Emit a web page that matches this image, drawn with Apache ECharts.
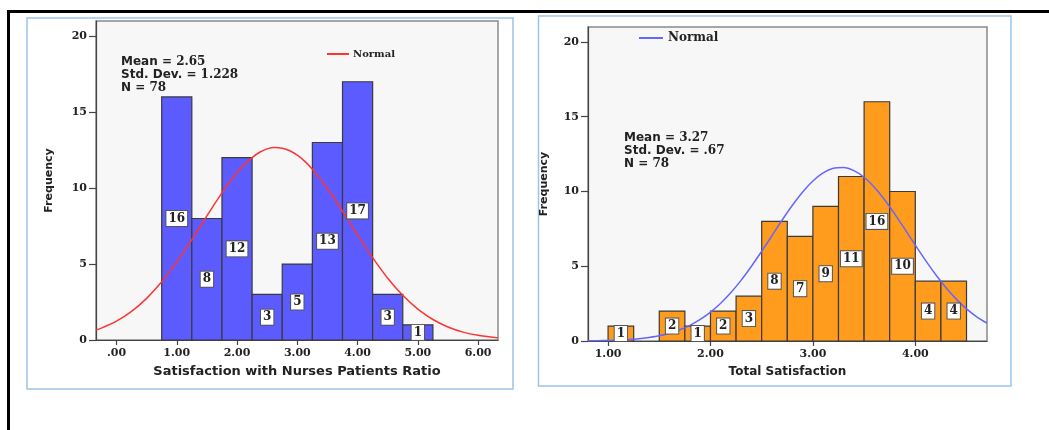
<!DOCTYPE html>
<html>
<head>
<meta charset="utf-8">
<script src="https://cdn.jsdelivr.net/npm/echarts@6/dist/echarts.min.js"></script>
<style>
html,body{margin:0;padding:0;background:#fff;}
#c{width:1049px;height:430px;}
</style>
</head>
<body>
<div id="c"></div>
<script>
// ---- Left histogram: Satisfaction with Nurses Patients Ratio ----
const leftBinEdges = [0.75, 1.25, 1.75, 2.25, 2.75, 3.25, 3.75, 4.25, 4.75, 5.25];
const leftCounts = [16, 8, 12, 3, 5, 13, 17, 3, 1];
const leftCurveX = [-0.34, -0.25, 0, 0.25, 0.5, 0.75, 1.0, 1.25, 1.5, 1.625, 1.75, 1.875, 2.0, 2.125, 2.25, 2.375, 2.5, 2.625, 2.75, 2.875, 3.0, 3.125, 3.25, 3.375, 3.5, 3.625, 3.75, 3.875, 4.0, 4.25, 4.5, 4.75, 5.0, 5.25, 5.5, 5.75, 6.0, 6.33];
const leftCurveY = [0.65, 0.78, 1.24, 1.88, 2.74, 3.83, 5.14, 6.61, 8.17, 8.94, 9.69, 10.38, 11.01, 11.56, 12.01, 12.36, 12.58, 12.67, 12.63, 12.46, 12.17, 11.76, 11.24, 10.64, 9.97, 9.25, 8.48, 7.70, 6.92, 5.42, 4.07, 2.94, 2.03, 1.35, 0.86, 0.52, 0.31, 0.14];
const leftXTicks = [0, 1, 2, 3, 4, 5, 6];
const leftStats = ['2.65', '1.228', '78'];
const leftXName = 'Satisfaction with Nurses Patients Ratio';

// ---- Right histogram: Total Satisfaction ----
const rightBinEdges = [1.0, 1.25, 1.5, 1.75, 2.0, 2.25, 2.5, 2.75, 3.0, 3.25, 3.5, 3.75, 4.0, 4.25, 4.5];
const rightCounts = [1, 0, 2, 1, 2, 3, 8, 7, 9, 11, 16, 10, 4, 4];
const rightCurveX = [0.8, 0.9, 1.0, 1.1, 1.2, 1.3, 1.4, 1.5, 1.6, 1.7, 1.8, 1.9, 2.0, 2.1, 2.2, 2.3, 2.4, 2.5, 2.6, 2.7, 2.8, 2.9, 3.0, 3.1, 3.2, 3.3, 3.4, 3.5, 3.6, 3.7, 3.8, 3.9, 4.0, 4.1, 4.2, 4.3, 4.4, 4.5, 4.6, 4.7];
const rightCurveY = [0.01, 0.02, 0.04, 0.06, 0.10, 0.15, 0.24, 0.35, 0.52, 0.75, 1.05, 1.44, 1.93, 2.53, 3.24, 4.07, 5.00, 6.00, 7.04, 8.09, 9.08, 9.97, 10.70, 11.24, 11.55, 11.60, 11.39, 10.95, 10.28, 9.45, 8.49, 7.46, 6.41, 5.39, 4.43, 3.56, 2.80, 2.15, 1.62, 1.19];
const rightXTicks = [1, 2, 3, 4];
const rightStats = ['3.27', '.67', '78'];
const rightXName = 'Total Satisfaction';

const yTicks = [0, 5, 10, 15, 20];
const yName = 'Frequency';
const legendName = 'Normal';

function binData(edges, counts) {
  return counts.map((c, i) => [edges[i], edges[i + 1], c]);
}
function curveData(xs, ys) { return xs.map((x, i) => [x, ys[i]]); }

const SANS = 'DejaVu Sans';
const SERIF = 'DejaVu Serif';

function barRender(fill) {
  return function (params, api) {
    const x0 = api.value(0), x1 = api.value(1), v = api.value(2);
    if (!v) return null;
    const p0 = api.coord([x0, 0]);
    const p1 = api.coord([x1, v]);
    return {
      type: 'rect',
      shape: { x: p0[0], y: p1[1], width: p1[0] - p0[0], height: p0[1] - p1[1] },
      style: { fill: fill, stroke: '#3a3a3a', lineWidth: 1.2 }
    };
  };
}
function labelRender(params, api) {
  const x0 = api.value(0), x1 = api.value(1), v = api.value(2);
  if (!v) return null;
  const p = api.coord([(x0 + x1) / 2, v / 2]);
  return {
    type: 'text',
    x: p[0], y: p[1],
    style: {
      text: String(v),
      fontFamily: SERIF, fontWeight: 'bold', fontSize: 12,
      fill: '#222', align: 'center', verticalAlign: 'middle',
      backgroundColor: '#ffffff', borderColor: '#555', borderWidth: 1,
      padding: [2, 2, 1, 2]
    }
  };
}

function fmtTick(v) { return v === 0 ? '.00' : v.toFixed(2); }

const axisLineStyle = { color: '#444', width: 1.2 };

function xAxisCfg(gi, min, max, ticks, name, nameSize) {
  return {
    type: 'value', gridIndex: gi, min: min, max: max,
    name: name, nameLocation: 'middle', nameGap: 25,
    nameTextStyle: { fontFamily: SANS, fontWeight: 'bold', fontSize: nameSize, color: '#222' },
    axisLine: { show: true, onZero: false, lineStyle: axisLineStyle },
    axisTick: { show: true, length: 5, lineStyle: axisLineStyle, customValues: ticks },
    axisLabel: { customValues: ticks, formatter: fmtTick, margin: 8,
      fontFamily: SERIF, fontWeight: 'bold', fontSize: 11, color: '#222' },
    splitLine: { show: false }
  };
}
function yAxisCfg(gi, gap) {
  return {
    type: 'value', gridIndex: gi, min: 0, max: 21,
    name: yName, nameLocation: 'middle', nameGap: gap, nameRotate: 90,
    nameTextStyle: { fontFamily: SANS, fontWeight: 'bold', fontSize: 11, color: '#222' },
    axisLine: { show: true, onZero: false, lineStyle: axisLineStyle },
    axisTick: { show: true, length: 7, lineStyle: axisLineStyle, customValues: yTicks },
    axisLabel: { customValues: yTicks, margin: 9,
      fontFamily: SERIF, fontWeight: 'bold', fontSize: 11, color: '#222' },
    splitLine: { show: false }
  };
}

function statsText(vals) {
  return '{a|Mean = }{b|' + vals[0] + '}\n{a|Std. Dev. = }{b|' + vals[1] + '}\n{a|N = }{b|' + vals[2] + '}';
}
const statsRich = {
  a: { fontFamily: SANS, fontWeight: 'bold', fontSize: 12, fill: '#222', lineHeight: 13 },
  b: { fontFamily: SERIF, fontWeight: 'bold', fontSize: 12, fill: '#222', lineHeight: 13 }
};

const chart = echarts.init(document.getElementById('c'), null, { renderer: 'canvas' });
chart.setOption({
  backgroundColor: '#ffffff',
  animation: false,
  grid: [
    { left: 96, top: 21, width: 402, height: 319, show: true, backgroundColor: '#f7f7f7', borderColor: '#8a8a8a', borderWidth: 1.5, containLabel: false },
    { left: 588, top: 27, width: 399, height: 314, show: true, backgroundColor: '#f7f7f7', borderColor: '#8a8a8a', borderWidth: 1.5, containLabel: false }
  ],
  xAxis: [
    xAxisCfg(0, -0.34, 6.33, leftXTicks, leftXName, 13),
    xAxisCfg(1, 0.804, 4.70, rightXTicks, rightXName, 12)
  ],
  yAxis: [yAxisCfg(0, 41), yAxisCfg(1, 38)],
  legend: [
    { data: ['NormalL'], left: 327, top: 49, padding: 0, icon: 'rect', itemWidth: 22, itemHeight: 2, itemGap: 4,
      formatter: () => legendName, selectedMode: false,
      textStyle: { fontFamily: SERIF, fontWeight: 'bold', fontSize: 10, color: '#222', padding: [0, 0, 0, -1] } },
    { data: ['NormalR'], left: 639, top: 32, padding: 0, icon: 'rect', itemWidth: 24, itemHeight: 2,
      formatter: () => legendName, selectedMode: false,
      textStyle: { fontFamily: SERIF, fontWeight: 'bold', fontSize: 12, color: '#222' } }
  ],
  series: [
    { type: 'custom', xAxisIndex: 0, yAxisIndex: 0, z: 2, renderItem: barRender('#5b5bff'),
      data: binData(leftBinEdges, leftCounts), encode: { x: [0, 1], y: 2 } },
    { name: 'NormalL', type: 'line', xAxisIndex: 0, yAxisIndex: 0, z: 3, smooth: 0.2, showSymbol: false,
      itemStyle: { color: '#ff3333' }, lineStyle: { color: '#ff3333', width: 1.5 },
      data: curveData(leftCurveX, leftCurveY) },
    { type: 'custom', xAxisIndex: 0, yAxisIndex: 0, z: 4, renderItem: labelRender,
      data: binData(leftBinEdges, leftCounts), encode: { x: [0, 1], y: 2 } },

    { type: 'custom', xAxisIndex: 1, yAxisIndex: 1, z: 2, renderItem: barRender('#ff9c1e'),
      data: binData(rightBinEdges, rightCounts), encode: { x: [0, 1], y: 2 } },
    { name: 'NormalR', type: 'line', xAxisIndex: 1, yAxisIndex: 1, z: 3, smooth: 0.2, showSymbol: false,
      itemStyle: { color: '#6666ff' }, lineStyle: { color: '#6666ff', width: 1.5 },
      data: curveData(rightCurveX, rightCurveY) },
    { type: 'custom', xAxisIndex: 1, yAxisIndex: 1, z: 4, renderItem: labelRender,
      data: binData(rightBinEdges, rightCounts), encode: { x: [0, 1], y: 2 } }
  ],
  graphic: [
    { type: 'line', shape: { x1: 7, y1: 11.5, x2: 1049, y2: 11.5 }, style: { stroke: '#000', lineWidth: 3 }, z: 10 },
    { type: 'line', shape: { x1: 8.5, y1: 10, x2: 8.5, y2: 430 }, style: { stroke: '#000', lineWidth: 3 }, z: 10 },
    { type: 'rect', shape: { x: 27, y: 18, width: 486, height: 371 }, style: { fill: 'none', stroke: '#9cc3e6', lineWidth: 1.5 }, z: 0 },
    { type: 'rect', shape: { x: 538.5, y: 16, width: 472.5, height: 370 }, style: { fill: 'none', stroke: '#9cc3e6', lineWidth: 1.5 }, z: 0 },
    { type: 'text', left: 121, top: 56, z: 10, style: { text: statsText(leftStats), rich: statsRich } },
    { type: 'text', left: 624, top: 132, z: 10, style: { text: statsText(rightStats), rich: statsRich } }
  ]
});
</script>
</body>
</html>
